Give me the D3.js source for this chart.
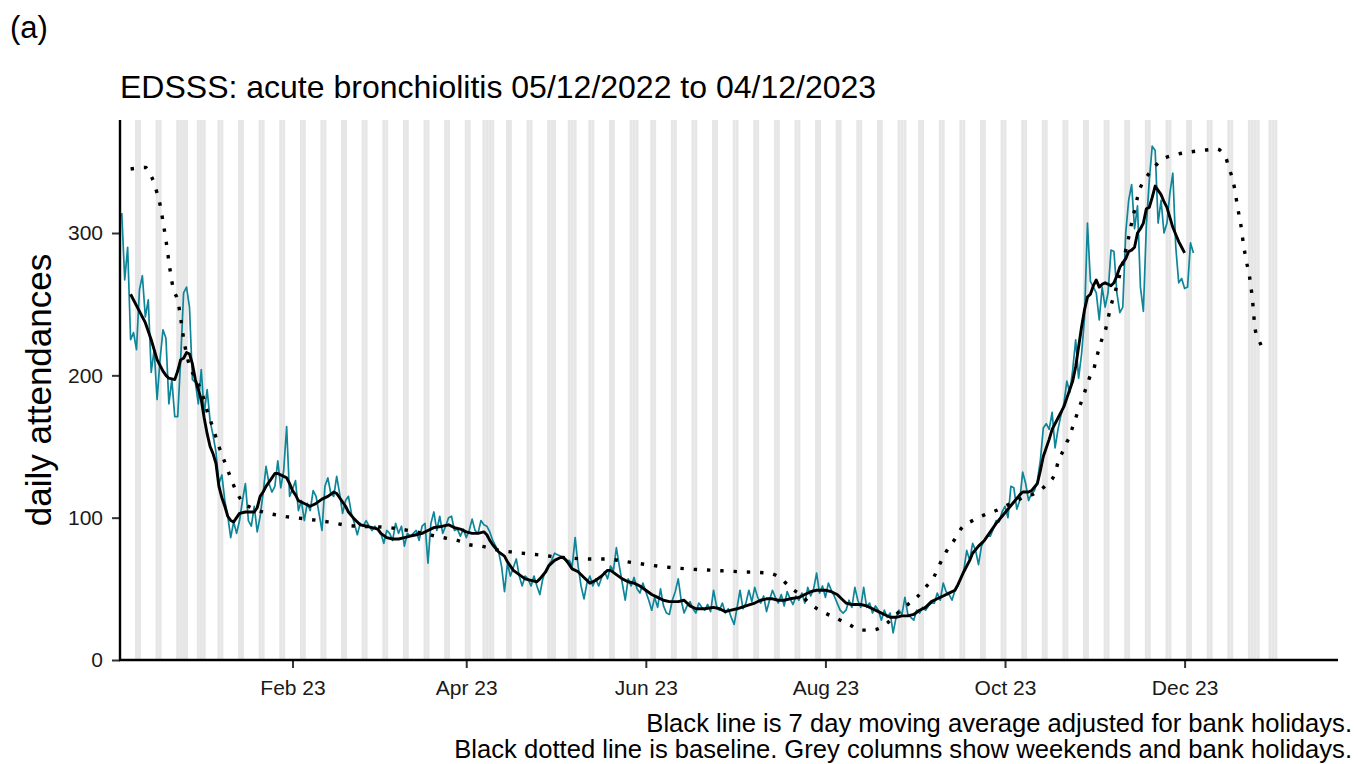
<!DOCTYPE html>
<html>
<head>
<meta charset="utf-8">
<script src="https://cdn.jsdelivr.net/npm/d3@7"></script>
<style>
  html, body { margin: 0; padding: 0; background: #ffffff; }
  svg { display: block; font-family: "Liberation Sans", Arial, sans-serif; }
</style>
</head>
<body>
<svg id="chart" width="1358" height="764"></svg>
<script>
// ---------------- DATA ----------------
const startDate = "2022-12-05";          // day 0 of the daily series
const titleText = "EDSSS: acute bronchiolitis 05/12/2022 to 04/12/2023";
const panelLabel = "(a)";
const yTitle = "daily attendances";
const captionLines = [
  "Black line is 7 day moving average adjusted for bank holidays.",
  "Black dotted line is baseline. Grey columns show weekends and bank holidays."
];

// daily attendances, 05/12/2022 .. 04/12/2023 (one value per day)
const daily = [
  314,267,290,225,230,218,260, 270,241,253,202,218,183,211,
  232,226,180,197,171,171,211, 258,262,248,197,195,180,204,
  173,190,168,158,146,124,130, 112,101,86,97,89,98,112,
  124,98,94,108,90,101,117, 136,124,118,122,140,121,133,
  164,115,120,126,105,112,98, 110,105,119,115,103,91,122,
  128,117,115,129,117,103,112, 115,103,96,88,96,94,98,
  94,91,94,91,89,82,91, 89,84,96,89,94,80,89,
  87,89,91,84,94,96,68, 96,104,91,101,89,94,100,
  101,91,92,87,92,86,91, 99,91,89,98,95,94,90,
  84,80,76,66,48,68,59, 65,71,59,52,59,57,52,
  59,52,46,57,63,67,70, 75,74,73,72,69,70,66,
  86,66,52,43,54,59,52, 57,52,58,62,57,66,63,
  79,66,54,42,57,52,58, 50,47,54,48,42,35,44,
  37,50,38,33,32,42,48, 57,42,33,38,41,36,33,
  40,37,35,39,34,49,38, 35,40,33,36,30,25,37,
  49,36,40,49,41,51,44, 40,45,34,42,49,44,40,
  46,38,48,43,39,45,42, 47,40,51,45,50,61,47,
  52,44,54,49,45,40,35, 33,35,42,37,51,42,37,
  51,37,40,33,38,35,28, 35,30,33,19,30,35,32,
  44,32,30,28,35,33,37, 35,38,40,40,47,42,54,
  48,46,42,49,52,58,63, 77,70,82,77,67,80,84,
  87,87,92,98,97,104,108, 100,122,121,106,112,132,124,
  112,117,119,126,140,163,166, 162,174,149,162,172,180,196,
  188,204,225,198,215,240,307, 266,262,258,239,262,248,258,
  288,287,258,244,248,300,323, 334,303,319,262,245,305,337,
  361,358,307,323,300,307,328, 342,290,265,268,261,262,293,
  286
];

// 7 day moving average (day index since startDate, value)
const maDay = [3,5,8,10,12,14,15,16,18,19,20,21,22,23,24,25,26,27,28,29,30,31,32,33,34,35,36,37,38,39,40,42,45,46,47,48,49,51,52,53,55,56,57,58,59,60,62,64,66,68,70,72,73,74,76,77,79,81,83,85,87,88,90,92,94,96,98,100,102,104,106,109,111,113,115,117,119,121,123,124,125,126,128,130,131,133,135,137,139,141,142,144,145,147,149,150,151,153,155,157,159,161,163,165,166,168,170,172,174,176,178,180,182,184,186,189,191,193,195,198,201,203,205,207,209,212,215,217,219,221,223,225,227,230,232,234,236,239,241,243,245,246,248,251,253,255,257,259,261,263,265,267,269,271,273,275,277,279,281,283,284,286,288,289,291,293,295,297,299,301,303,305,306,308,309,311,312,313,315,316,318,320,321,322,323,324,325,326,327,328,329,330,331,332,333,334,335,336,337,338,339,340,341,342,343,344,345,346,347,348,349,350,351,352,353,354,355,356,357,358,359,360,361];
const maVal = [257,249,237,225,211,203,200,198,197,203,211,212,216,215,208,197,190,183,170,159,150,145,138,122,114,108,101,98,97,100,103,104,104,107,115,118,122,128,131,131,129,128,124,119,116,112,110,108,110,113,115,118,117,114,108,104,99,95,94,93,92,89,86,85,85,86,87,88,89,91,93,94,95,93,92,90,89,89,90,88,84,81,76,73,69,63,60,57,56,55,57,62,66,70,72,72,70,64,62,58,54,56,59,63,63,60,57,55,54,52,49,46,44,42,41,41,42,38,36,36,37,36,34,35,36,38,40,42,43,43,42,42,43,44,46,48,49,49,48,46,42,40,39,39,38,36,34,32,30,30,31,31,32,35,37,41,43,45,47,49,53,62,70,75,80,84,90,96,101,106,111,116,118,118,119,124,133,143,155,162,170,178,184,190,196,206,220,234,246,255,257,263,267,262,264,265,264,263,265,270,276,279,282,287,288,290,300,303,307,317,318,325,333,330,327,322,318,311,304,299,294,290,286];

// baseline (day index since startDate, value)
const baseDay = [3,8,10,11,12,13,14,15,16,17,18,19,20,21,22,23,25,27,29,31,33,35,37,39,41,44,50,55,63,70,77,91,100,109,114,118,122,127,132,141,150,159,164,173,182,192,201,210,220,224,227,231,234,238,243,247,251,255,260,263,267,270,273,276,278,280,283,285,289,293,297,301,306,310,314,317,318,320,321,322,323,324,325,326,327,328,329,330,331,332,333,334,335,336,337,338,339,340,341,342,343,344,345,346,347,349,353,358,363,367,372,374,375,376,377,378,379,380,381,382,383,384,385,386,387];
const baseVal = [345,346,340,335,328,320,308,295,280,266,258,253,240,226,215,207,198,189,175,163,150,139,128,118,111,107,103,101,99,97,94.5,93,90,86,84,81,80,77.5,76,74,72,71,71,68.6,66,64,63,62,61,57,51,45,39,34,29,25,21,21,26,32,39,44,51,59,68,76,85,92,98,102,105,109,114,117,123,131,139,148,153,157,164,170,176,182,188,194,200,203,212,219,226,231,240,249,256,263,271,279,288,297,307,316,325,332,336,342,351,355,357,358,359,356,353,346,340,331,318,307,292,280,270,254,232,226,221];

// bank holidays (England) within the plotted period
const bankHolidays = ["2022-12-26","2022-12-27","2023-01-02","2023-04-07","2023-04-10","2023-05-01","2023-05-08","2023-05-29","2023-08-28","2023-12-25","2023-12-26","2024-01-01"];
const shadeEnd = "2024-01-01";

// axis ticks
const xTickDates = ["2023-02-01","2023-04-01","2023-06-01","2023-08-01","2023-10-01","2023-12-01"];
const xTickLabels = ["Feb 23","Apr 23","Jun 23","Aug 23","Oct 23","Dec 23"];
const yTicks = [0,100,200,300];

// ---------------- DRAW ----------------
(function () {
const DAY = 86400000;
const t0 = Date.parse(startDate + "T00:00:00Z");
const dayToDate = d => new Date(t0 + d * DAY);
const parse = s => new Date(Date.parse(s + "T00:00:00Z"));

const pL = 120, pR = 1338, pT = 120, pB = 660;
const x = d3.scaleUtc().domain([dayToDate(-0.6), dayToDate(413.1)]).range([pL, pR]);
const y = d3.scaleLinear().domain([0, 379.4]).range([pB, pT]);

const svg = d3.select("#chart");

// grey columns: weekends and bank holidays
const bh = new Set(bankHolidays);
const endShade = parse(shadeEnd);
const shadeDays = [];
for (let t = new Date(t0); t <= endShade; t = new Date(t.getTime() + DAY)) {
  const wd = t.getUTCDay();
  const iso = t.toISOString().slice(0, 10);
  if (wd === 0 || wd === 6 || bh.has(iso)) shadeDays.push(t);
}
svg.append("g").selectAll("rect").data(shadeDays).join("rect")
  .attr("x", d => x(new Date(d.getTime() - DAY / 2)))
  .attr("width", d => x(new Date(d.getTime() + DAY / 2)) - x(new Date(d.getTime() - DAY / 2)))
  .attr("y", pT)
  .attr("height", pB - pT)
  .attr("fill", "#e6e6e6");

svg.append("defs").append("clipPath").attr("id", "plotclip")
  .append("rect").attr("x", pL).attr("y", pT - 5).attr("width", pR - pL).attr("height", pB - pT + 5);

const plot = svg.append("g").attr("clip-path", "url(#plotclip)");

// daily series
const dailyLine = d3.line().x((v, i) => x(dayToDate(i))).y(v => y(v));
plot.append("path").datum(daily)
  .attr("d", dailyLine)
  .attr("fill", "none").attr("stroke", "#0e8599").attr("stroke-width", 1.7)
  .attr("stroke-linejoin", "round");

// baseline (dotted)
const n1 = Math.min(baseDay.length, baseVal.length);
const pairLine = d3.line().x(p => x(dayToDate(p[0]))).y(p => y(p[1])).curve(d3.curveMonotoneX);
plot.append("path").datum(baseDay.slice(0, n1).map((d, i) => [d, baseVal[i]]))
  .attr("d", pairLine)
  .attr("fill", "none").attr("stroke", "#000").attr("stroke-width", 3.4)
  .attr("stroke-dasharray", "3.4 9.9");

// moving average
const n2 = Math.min(maDay.length, maVal.length);
const maLine = d3.line().x(p => x(dayToDate(p[0]))).y(p => y(p[1]));
plot.append("path").datum(maDay.slice(0, n2).map((d, i) => [d, maVal[i]]))
  .attr("d", maLine)
  .attr("fill", "none").attr("stroke", "#000").attr("stroke-width", 2.9)
  .attr("stroke-linejoin", "round");

// axes
const yAxis = d3.axisLeft(y).tickValues(yTicks).tickSize(8).tickPadding(9);
const gy = svg.append("g").attr("transform", `translate(${pL},0)`).call(yAxis);
gy.select(".domain").remove();
gy.selectAll(".tick line").attr("stroke", "#333").attr("stroke-width", 2);
gy.selectAll(".tick text").attr("font-size", 21).attr("fill", "#1a1a1a")
  .attr("font-family", "Liberation Sans, Arial, sans-serif");

const xAxis = d3.axisBottom(x).tickValues(xTickDates.map(parse))
  .tickFormat((d, i) => xTickLabels[i]).tickSize(8).tickPadding(12);
const gx = svg.append("g").attr("transform", `translate(0,${pB})`).call(xAxis);
gx.select(".domain").remove();
gx.selectAll(".tick line").attr("stroke", "#333").attr("stroke-width", 2);
gx.selectAll(".tick text").attr("font-size", 21).attr("fill", "#1a1a1a")
  .attr("font-family", "Liberation Sans, Arial, sans-serif");

svg.append("line").attr("x1", pL).attr("x2", pL).attr("y1", pT).attr("y2", pB + 1)
  .attr("stroke", "#000").attr("stroke-width", 2.4);
svg.append("line").attr("x1", pL - 1).attr("x2", pR).attr("y1", pB).attr("y2", pB)
  .attr("stroke", "#000").attr("stroke-width", 2.4);

// texts
svg.append("text").attr("x", 10).attr("y", 38).attr("font-size", 31).attr("fill", "#000").text(panelLabel);
svg.append("text").attr("x", 120).attr("y", 98).attr("font-size", 32).attr("fill", "#000").text(titleText);
svg.append("text").attr("transform", `translate(51,${(pT + pB) / 2}) rotate(-90)`)
  .attr("text-anchor", "middle").attr("font-size", 35).attr("fill", "#000").text(yTitle);
svg.selectAll("text.cap").data(captionLines).join("text").attr("class", "cap")
  .attr("x", 1352).attr("y", (d, i) => 732 + i * 26)
  .attr("text-anchor", "end").attr("font-size", 25.6).attr("fill", "#000").text(d => d);
})();
</script>
</body>
</html>
